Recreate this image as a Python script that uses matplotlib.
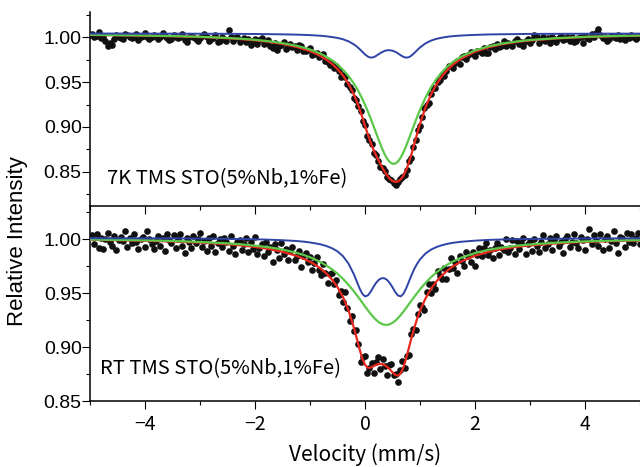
#!/usr/bin/env python3
"""Mossbauer spectra of STO(5%Nb,1%Fe) at 7 K and room temperature with doublet/singlet fits."""

import numpy as np
import matplotlib
matplotlib.use("Agg")
import matplotlib.pyplot as plt
from matplotlib.ticker import MultipleLocator, FormatStrFormatter

# channel velocities (mm/s), evenly spaced
VELOCITY = np.linspace(-5, 5, 251)

TOP_Y = [
    1.003, 1.004, 1.000, 1.002, 1.006, 0.999, 1.000, 0.996, 0.990, 0.994, 0.992, 0.998, 1.003, 1.001, 0.999, 0.998, 1.004, 1.003, 1.000, 0.999, 1.001, 1.004, 0.997, 1.000, 1.002,
    1.005, 1.001, 0.998, 1.000, 1.003, 1.002, 0.998, 1.001, 1.005, 1.002, 0.999, 0.997, 0.998, 1.003, 1.000, 0.999, 1.001, 1.004, 0.997, 0.995, 1.000, 1.002, 1.001, 0.998, 0.996,
    0.999, 1.002, 1.004, 1.000, 0.996, 0.998, 0.999, 1.003, 0.995, 0.996, 1.000, 0.998, 0.996, 1.008, 1.000, 0.996, 0.999, 1.001, 0.995, 0.997, 0.999, 0.995, 0.998, 0.992, 0.996,
    0.998, 0.993, 0.997, 0.999, 0.993, 0.994, 0.997, 0.990, 0.988, 0.994, 0.986, 0.990, 0.992, 0.995, 0.987, 0.989, 0.993, 0.989, 0.990, 0.986, 0.992, 0.990, 0.985, 0.985, 0.986,
    0.988, 0.980, 0.982, 0.983, 0.978, 0.979, 0.982, 0.974, 0.973, 0.969, 0.971, 0.966, 0.968, 0.962, 0.956, 0.958, 0.956, 0.948, 0.945, 0.941, 0.932, 0.930, 0.923, 0.918, 0.907,
    0.902, 0.890, 0.885, 0.881, 0.871, 0.869, 0.862, 0.855, 0.854, 0.851, 0.844, 0.842, 0.841, 0.837, 0.835, 0.838, 0.842, 0.844, 0.846, 0.852, 0.862, 0.865, 0.878, 0.885, 0.897,
    0.901, 0.911, 0.921, 0.924, 0.927, 0.937, 0.943, 0.943, 0.950, 0.952, 0.958, 0.957, 0.962, 0.968, 0.968, 0.966, 0.971, 0.974, 0.970, 0.978, 0.979, 0.976, 0.980, 0.984, 0.981,
    0.979, 0.985, 0.985, 0.983, 0.988, 0.983, 0.983, 0.989, 0.990, 0.987, 0.993, 0.989, 0.991, 0.996, 0.991, 0.994, 0.993, 0.991, 0.996, 0.998, 0.993, 0.995, 0.991, 0.996, 0.998,
    0.994, 0.997, 1.003, 1.000, 0.994, 0.997, 1.000, 0.996, 0.999, 0.994, 1.000, 0.998, 0.995, 0.999, 1.002, 0.997, 0.998, 1.001, 0.996, 1.000, 0.995, 0.996, 0.999, 1.001, 0.994,
    1.002, 0.999, 0.998, 1.004, 1.001, 1.005, 1.010, 1.003, 0.999, 1.000, 0.996, 0.998, 1.002, 1.000, 0.999, 1.003, 0.998, 1.001, 0.997, 1.002, 0.999, 1.003, 1.001, 0.998, 1.002,
    1.001,
]

BOT_Y = [
    1.002, 1.004, 0.995, 1.005, 0.992, 1.001, 0.991, 1.000, 1.006, 0.997, 0.994, 1.003, 0.990, 0.999, 1.002, 0.998, 1.007, 0.993, 1.001, 0.996, 1.005, 0.997, 0.991, 1.000, 1.002,
    0.993, 1.007, 1.000, 0.995, 0.991, 0.998, 1.003, 0.994, 1.001, 0.989, 1.005, 0.999, 0.996, 1.004, 0.992, 1.000, 1.005, 0.994, 0.987, 1.001, 0.997, 0.992, 1.003, 0.996, 1.000,
    1.006, 0.993, 0.998, 0.989, 1.001, 0.994, 1.003, 0.988, 0.996, 1.000, 0.993, 1.001, 0.997, 0.989, 1.003, 0.994, 0.986, 0.997, 0.999, 0.990, 0.995, 1.001, 0.988, 0.997, 0.991,
    1.002, 0.986, 0.992, 0.995, 0.984, 0.997, 0.988, 0.993, 0.979, 0.995, 0.990, 0.982, 0.996, 0.986, 0.991, 0.981, 0.989, 0.993, 0.981, 0.984, 0.989, 0.974, 0.984, 0.987, 0.979,
    0.983, 0.971, 0.978, 0.983, 0.971, 0.967, 0.977, 0.969, 0.959, 0.968, 0.969, 0.958, 0.962, 0.948, 0.952, 0.942, 0.951, 0.936, 0.924, 0.929, 0.915, 0.916, 0.903, 0.886, 0.891,
    0.892, 0.876, 0.881, 0.885, 0.876, 0.886, 0.891, 0.880, 0.889, 0.882, 0.874, 0.883, 0.884, 0.874, 0.875, 0.868, 0.879, 0.887, 0.881, 0.892, 0.893, 0.912, 0.917, 0.916, 0.931,
    0.939, 0.937, 0.934, 0.951, 0.958, 0.950, 0.958, 0.954, 0.970, 0.966, 0.963, 0.973, 0.963, 0.972, 0.982, 0.973, 0.979, 0.969, 0.984, 0.980, 0.975, 0.988, 0.984, 0.979, 0.988,
    0.975, 0.985, 0.992, 0.984, 0.992, 0.996, 0.985, 0.990, 0.982, 0.992, 0.996, 0.985, 0.993, 0.990, 1.000, 0.988, 0.992, 0.999, 0.986, 0.998, 0.991, 0.996, 1.001, 0.986, 0.995,
    0.998, 0.989, 1.000, 0.994, 0.988, 0.997, 1.004, 0.992, 0.995, 1.001, 0.990, 0.999, 1.003, 0.994, 0.997, 0.987, 1.000, 1.003, 0.993, 0.997, 1.005, 0.996, 0.992, 1.002, 0.999,
    0.990, 1.000, 1.009, 0.995, 1.004, 0.999, 0.994, 1.005, 0.990, 1.000, 1.003, 0.992, 0.998, 1.007, 0.996, 0.987, 1.002, 1.001, 0.993, 1.006, 0.997, 1.005, 0.996, 1.001, 1.006,
    0.995,
]

# fitted curves, sampled at FIT_V
FIT_V = [-5, -4.5, -4, -3.5, -3, -2.5, -2.25, -2, -1.75, -1.5, -1.25, -1.1, -1, -0.9, -0.8, -0.7,
         -0.6, -0.5, -0.4, -0.3, -0.2, -0.15, -0.1, -0.05, 0, 0.05, 0.1, 0.15, 0.2, 0.25, 0.3,
         0.35, 0.4, 0.45, 0.5, 0.55, 0.6, 0.65, 0.7, 0.75, 0.8, 0.85, 0.9, 0.95, 1.0, 1.1, 1.2,
         1.3, 1.4, 1.5, 1.6, 1.75, 2, 2.25, 2.5, 2.75, 3, 3.5, 4, 4.5, 5]

TOP_DOUBLET = [1.0044, 1.0044, 1.0043, 1.0043, 1.0042, 1.0041, 1.0040, 1.0039, 1.0037, 1.0035, 1.0032, 1.0029, 1.0026, 1.0023, 1.0019, 1.0013,
               1.0005, 0.9995, 0.9980, 0.9957, 0.9922, 0.9899, 0.9871, 0.9841, 0.9811, 0.9787, 0.9775, 0.9778, 0.9793, 0.9814, 0.9833,
               0.9848, 0.9857, 0.9858, 0.9852, 0.9840, 0.9822, 0.9801, 0.9783, 0.9774, 0.9780, 0.9800, 0.9828, 0.9859, 0.9888, 0.9934, 0.9965,
               0.9985, 0.9998, 1.0008, 1.0015, 1.0022, 1.0029, 1.0034, 1.0036, 1.0038, 1.0040, 1.0041, 1.0042, 1.0043, 1.0043]
TOP_SINGLET = [1.0030, 1.0026, 1.0022, 1.0016, 1.0008, 0.9995, 0.9986, 0.9974, 0.9958, 0.9937, 0.9908, 0.9884, 0.9865, 0.9842, 0.9816, 0.9783,
               0.9745, 0.9698, 0.9640, 0.9569, 0.9483, 0.9432, 0.9376, 0.9315, 0.9248, 0.9176, 0.9099, 0.9018, 0.8935, 0.8853, 0.8774,
               0.8704, 0.8647, 0.8607, 0.8587, 0.8589, 0.8613, 0.8657, 0.8717, 0.8789, 0.8869, 0.8952, 0.9034, 0.9115, 0.9191, 0.9328, 0.9442,
               0.9537, 0.9613, 0.9676, 0.9727, 0.9787, 0.9856, 0.9902, 0.9933, 0.9955, 0.9972, 0.9993, 1.0007, 1.0016, 1.0022]
TOP_TOTAL = [1.0028, 1.0025, 1.0020, 1.0014, 1.0005, 0.9991, 0.9981, 0.9968, 0.9951, 0.9927, 0.9895, 0.9868, 0.9846, 0.9820, 0.9789, 0.9751,
             0.9705, 0.9647, 0.9575, 0.9481, 0.9359, 0.9286, 0.9202, 0.9111, 0.9014, 0.8918, 0.8829, 0.8751, 0.8683, 0.8621, 0.8562,
             0.8507, 0.8459, 0.8420, 0.8394, 0.8384, 0.8390, 0.8413, 0.8455, 0.8519, 0.8604, 0.8706, 0.8818, 0.8929, 0.9034, 0.9217, 0.9362,
             0.9476, 0.9567, 0.9639, 0.9697, 0.9764, 0.9841, 0.9891, 0.9925, 0.9949, 0.9966, 0.9990, 1.0004, 1.0014, 1.0020]

BOT_DOUBLET = [1.0008, 1.0007, 1.0007, 1.0006, 1.0004, 1.0002, 1.0000, 0.9998, 0.9994, 0.9989, 0.9982, 0.9975, 0.9968, 0.9960, 0.9950, 0.9935,
               0.9915, 0.9886, 0.9841, 0.9773, 0.9671, 0.9608, 0.9545, 0.9494, 0.9469, 0.9477, 0.9509, 0.9553, 0.9593, 0.9622, 0.9637,
               0.9637, 0.9622, 0.9593, 0.9553, 0.9509, 0.9477, 0.9469, 0.9494, 0.9545, 0.9608, 0.9671, 0.9727, 0.9773, 0.9811, 0.9866, 0.9902,
               0.9926, 0.9943, 0.9956, 0.9965, 0.9975, 0.9985, 0.9992, 0.9996, 0.9999, 1.0001, 1.0003, 1.0005, 1.0006, 1.0007]
BOT_SINGLET = [0.9995, 0.9992, 0.9988, 0.9982, 0.9973, 0.9960, 0.9951, 0.9939, 0.9924, 0.9903, 0.9873, 0.9850, 0.9831, 0.9810, 0.9784, 0.9754,
               0.9720, 0.9679, 0.9631, 0.9576, 0.9515, 0.9481, 0.9447, 0.9412, 0.9376, 0.9342, 0.9309, 0.9279, 0.9252, 0.9231, 0.9215,
               0.9207, 0.9205, 0.9211, 0.9224, 0.9243, 0.9268, 0.9297, 0.9328, 0.9363, 0.9398, 0.9433, 0.9468, 0.9501, 0.9534, 0.9594, 0.9646,
               0.9692, 0.9731, 0.9764, 0.9792, 0.9827, 0.9870, 0.9901, 0.9922, 0.9938, 0.9950, 0.9967, 0.9978, 0.9985, 0.9990]
BOT_TOTAL = [0.9993, 0.9989, 0.9984, 0.9977, 0.9967, 0.9952, 0.9941, 0.9927, 0.9908, 0.9882, 0.9845, 0.9814, 0.9790, 0.9760, 0.9724, 0.9680,
             0.9625, 0.9555, 0.9463, 0.9340, 0.9176, 0.9080, 0.8982, 0.8896, 0.8836, 0.8809, 0.8808, 0.8821, 0.8835, 0.8843, 0.8843,
             0.8834, 0.8817, 0.8794, 0.8766, 0.8743, 0.8735, 0.8756, 0.8813, 0.8898, 0.8996, 0.9094, 0.9184, 0.9265, 0.9335, 0.9450, 0.9538,
             0.9608, 0.9664, 0.9709, 0.9747, 0.9792, 0.9845, 0.9882, 0.9908, 0.9927, 0.9941, 0.9960, 0.9973, 0.9981, 0.9987]

LABELS = ["7K TMS STO(5%Nb,1%Fe)", "RT TMS STO(5%Nb,1%Fe)"]

plt.rcParams["font.family"] = ["Liberation Sans", "DejaVu Sans"]
CJK = ["Noto Sans CJK JP", "DejaVu Sans"]


def style(ax):
    ax.set_xlim(-5, 5)
    ax.spines["right"].set_visible(False)
    ax.spines["top"].set_visible(False)
    for s in ax.spines.values():
        s.set_linewidth(1.1)
    ax.yaxis.set_major_locator(MultipleLocator(0.05))
    ax.yaxis.set_minor_locator(MultipleLocator(0.025))
    ax.yaxis.set_major_formatter(FormatStrFormatter("%.2f"))
    ax.xaxis.set_major_locator(MultipleLocator(2))
    ax.xaxis.set_minor_locator(MultipleLocator(1))
    ax.tick_params(which="major", length=5.5, width=0.8, direction="out", labelsize=14)
    ax.tick_params(which="minor", length=3.1, width=0.8, direction="out")
    ax.tick_params(axis="y", pad=0.5)


def panel(ax, y, doublet, singlet, total):
    ax.scatter(VELOCITY, y, s=23, color="#111111", linewidths=0, zorder=2)
    ax.plot(FIT_V, total, color="#e8281e", lw=1.6, zorder=3)
    ax.plot(FIT_V, singlet, color="#5cc84a", lw=1.6, zorder=4)
    ax.plot(FIT_V, doublet, color="#2f43a6", lw=1.4, zorder=5)
    style(ax)


fig = plt.figure(figsize=(6.4, 4.67), dpi=100)
ax2 = fig.add_axes([0.1406, 0.1413, 0.8594, 0.4176])
ax1 = fig.add_axes([0.1406, 0.5589, 0.8594, 0.4154])
ax2.set_facecolor("none")

panel(ax1, TOP_Y, TOP_DOUBLET, TOP_SINGLET, TOP_TOTAL)
panel(ax2, BOT_Y, BOT_DOUBLET, BOT_SINGLET, BOT_TOTAL)
ax1.set_ylim(0.8115, 1.0285)
ax2.set_ylim(0.85, 1.0306)
ax1.tick_params(axis="x", labelbottom=False)
ax2.tick_params(axis="x", pad=4, labelfontfamily="Noto Sans CJK JP")

ax1.text(0.031, 0.142, LABELS[0], transform=ax1.transAxes,
         fontsize=14.5, family=CJK, va="center", ha="left")
ax2.text(0.018, 0.164, LABELS[1], transform=ax2.transAxes,
         fontsize=14.5, family=CJK, va="center", ha="left")
fig.text(17.5 / 640, 1 - 241.5 / 467, "Relative Intensity", rotation=90,
         ha="center", va="center", fontsize=16)
fig.text(365 / 640, 6 / 467, "Velocity (mm/s)", ha="center", va="baseline",
         fontsize=15, family=CJK)

fig.savefig("out.png")
